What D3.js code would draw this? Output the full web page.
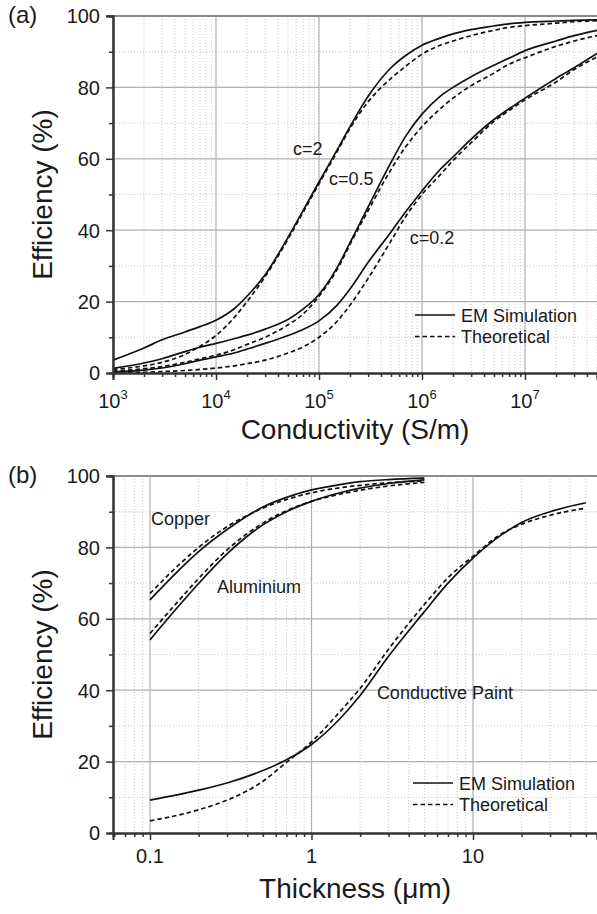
<!DOCTYPE html>
<html>
<head>
<meta charset="utf-8">
<script src="https://cdn.jsdelivr.net/npm/d3@7"></script>
<style>
  body { margin: 0; background: #fff; }
  svg { display: block; }
  text { font-family: "Liberation Sans", Arial, sans-serif; fill: #1a1a1a; }
</style>
</head>
<body>
<svg id="chart" width="597" height="914"></svg>
<script>
// ---- panel (a): efficiency vs conductivity ----
const sigma = [1e3, 2e3, 3e3, 5e3, 7e3, 1e4, 1.5e4, 2e4, 3e4, 5e4, 7e4, 1e5, 1.5e5, 2e5, 3e5,
               5e5, 7e5, 1e6, 1.5e6, 2e6, 3e6, 5e6, 7e6, 1e7, 2e7, 3e7, 5e7];
const simC2  = [3.6, 7.0, 9.3, 11.5, 13.0, 14.8, 18, 21.5, 27.5, 38, 45.5, 53.5, 62.5, 69, 77.5,
                85.5, 89, 91.8, 93.8, 95, 96.2, 97.2, 97.8, 98.2, 98.6, 98.8, 98.9];
const thC2   = [1.0, 2.0, 3.0, 5.2, 7.5, 10.5, 15.5, 20, 27, 37.5, 45, 53, 62, 68.5, 76,
                82.5, 86, 89.3, 91.8, 93, 94.5, 96, 96.8, 97.3, 98, 98.4, 98.7];
const simC05 = [1.3, 2.8, 4.0, 6.0, 7.2, 8.3, 9.6, 10.6, 12.3, 15, 17.9, 22, 29.5, 36.5, 46.5,
                59, 66.5, 72.5, 77.5, 80, 83, 86.2, 88.2, 90.3, 93, 94.5, 96];
const thC05  = [0.5, 1.2, 1.8, 3.0, 4.0, 5.0, 6.5, 8, 10, 13.5, 16.5, 21.5, 29, 36, 45.5,
                57, 63.5, 69, 74, 77, 80.5, 84, 86.5, 88.3, 91.5, 93, 94.5];
const simC02 = [0.3, 0.8, 1.4, 2.6, 3.6, 4.5, 5.6, 6.7, 8.3, 10.5, 12.2, 14.6, 19, 23.5, 31,
                39.5, 45.3, 51, 57, 60.5, 65.5, 71, 74, 77, 82.5, 85.5, 89.5];
const thC02  = [0.1, 0.2, 0.4, 0.7, 1.0, 1.4, 2.0, 2.6, 3.6, 5.6, 7.3, 10, 14.5, 19, 26.5,
                37, 44, 50, 55.5, 59.5, 64.5, 70.5, 73.5, 76.5, 81.5, 85, 88.5];
const sigmaTicks = [1e3, 1e4, 1e5, 1e6, 1e7];
const sigmaExps = ["3", "4", "5", "6", "7"];
const curveLabelsA = [
  {text: "c=2",   x: 5.6e4, y: 61},
  {text: "c=0.5", x: 1.25e5, y: 52.7},
  {text: "c=0.2", x: 7.6e5, y: 36}
];

// ---- panel (b): efficiency vs thickness ----
const thick = [0.1, 0.15, 0.2, 0.3, 0.5, 0.7, 1, 1.5, 2, 3, 5];
const simCu = [65.3, 73.5, 78.8, 85, 91.3, 94, 96.1, 97.6, 98.4, 99, 99.4];
const thCu  = [67.1, 75, 80, 85.8, 91, 93.4, 95.3, 96.7, 97.4, 98.1, 98.6];
const simAl = [54.1, 63.5, 69.9, 78.2, 86.3, 90, 92.9, 95.3, 96.6, 97.9, 98.9];
const thAl  = [55.9, 65, 71.3, 79.3, 86.8, 90.3, 92.9, 94.9, 96, 97.2, 98.2];
const thickPaint = [0.1, 0.2, 0.3, 0.5, 0.7, 1, 1.5, 2, 3, 5, 7, 10, 15, 20, 30, 50];
const simPaint = [9.2, 12, 14, 17.5, 20.5, 24.8, 32, 38.5, 49.5, 62, 70, 77, 83.5, 87, 90, 92.5];
const thPaint  = [3.4, 6.5, 9.2, 14.5, 19.8, 25.5, 34, 40.5, 51.5, 64, 71.5, 77.5, 83.8, 86.5, 89, 91];
const thickTicks = [0.1, 1, 10];
const thickLabels = ["0.1", "1", "10"];
const curveLabelsB = [
  {text: "Copper",           x: 0.1015, y: 86.3},
  {text: "Aluminium",        x: 0.26,   y: 67.3},
  {text: "Conductive Paint", x: 2.54,   y: 37.4}
];

const effTicks = [0, 20, 40, 60, 80, 100];
const effMinor = [10, 30, 50, 70, 90];
const legendNames = ["EM Simulation", "Theoretical"];

const svg = d3.select("#chart");
const left = 113, right = 597;

function drawPanel(p) {
  const x = d3.scaleLog().domain(p.xDomain).range([left, right]);
  const y = d3.scaleLinear().domain([0, 100]).range([p.bottom, p.top]);
  const g = svg.append("g");

  const isMajor = v => p.xTicks.some(t => Math.abs(t - v) / t < 1e-6);
  const xMinor = x.ticks(40).filter(v => !isMajor(v));

  // grid: minor dotted, major solid
  const grid = g.append("g");
  grid.selectAll(".vm").data(xMinor).join("line")
    .attr("x1", d => x(d)).attr("x2", d => x(d))
    .attr("y1", p.top).attr("y2", p.bottom)
    .attr("stroke", "#c8c8c8").attr("stroke-width", 1).attr("stroke-dasharray", "1,2");
  grid.selectAll(".hm").data(effMinor).join("line")
    .attr("x1", left).attr("x2", right)
    .attr("y1", d => y(d)).attr("y2", d => y(d))
    .attr("stroke", "#c8c8c8").attr("stroke-width", 1).attr("stroke-dasharray", "1,2");
  grid.selectAll(".vM").data(p.xTicks).join("line")
    .attr("x1", d => x(d)).attr("x2", d => x(d))
    .attr("y1", p.top).attr("y2", p.bottom)
    .attr("stroke", "#b0b0b0").attr("stroke-width", 1.2);
  grid.selectAll(".hM").data(effTicks.slice(1, -1)).join("line")
    .attr("x1", left).attr("x2", right)
    .attr("y1", d => y(d)).attr("y2", d => y(d))
    .attr("stroke", "#b0b0b0").attr("stroke-width", 1.2);

  // curves
  const line = d3.line().curve(d3.curveMonotoneX);
  p.series.forEach(s => {
    g.append("path")
      .attr("d", line(s.xs.map((v, i) => [x(v), y(s.ys[i])])))
      .attr("fill", "none")
      .attr("stroke", "#111")
      .attr("stroke-width", 1.7)
      .attr("stroke-dasharray", s.dashed ? "4.5,3" : null);
  });

  // top frame
  g.append("line").attr("x1", left - 7).attr("x2", right)
    .attr("y1", p.top).attr("y2", p.top)
    .attr("stroke", "#8a8a8a").attr("stroke-width", 2);

  // axes
  const yAxis = g.append("g").attr("transform", `translate(${left},0)`)
    .call(d3.axisLeft(y).tickValues(effTicks).tickSize(7).tickPadding(6));
  g.append("g").attr("transform", `translate(${left},0)`)
    .call(d3.axisLeft(y).tickValues(effMinor).tickSize(4).tickFormat(""));
  yAxis.selectAll("text").attr("font-size", 20).attr("dy", "0.34em");

  g.append("g").attr("transform", `translate(0,${p.bottom})`)
    .call(d3.axisBottom(x).tickValues(p.xTicks).tickSize(7).tickFormat(""));
  g.append("g").attr("transform", `translate(0,${p.bottom})`)
    .call(d3.axisBottom(x).tickValues(xMinor).tickSize(4).tickFormat(""));

  g.selectAll(".domain").attr("stroke", "#333").attr("stroke-width", 2);
  g.selectAll(".tick line").attr("stroke", "#333").attr("stroke-width", 1.5);

  // x tick labels
  p.xTicks.forEach((v, i) => {
    const t = g.append("text")
      .attr("x", x(v)).attr("y", p.bottom + p.labelOffset)
      .attr("text-anchor", "middle").attr("font-size", 20);
    if (p.exps) {
      t.append("tspan").text("10");
      t.append("tspan").text(p.exps[i]).attr("font-size", 13).attr("dy", -9);
    } else {
      t.text(p.xLabels[i]);
    }
  });

  // axis titles
  g.append("text")
    .attr("x", (left + right) / 2).attr("y", p.bottom + p.titleOffset)
    .attr("text-anchor", "middle").attr("font-size", 28)
    .text(p.xTitle);
  g.append("text")
    .attr("transform", `translate(52,${(p.top + p.bottom) / 2}) rotate(-90)`)
    .attr("text-anchor", "middle").attr("font-size", 28)
    .text("Efficiency (%)");

  // panel letter
  g.append("text")
    .attr("x", 8).attr("y", p.top + 7)
    .attr("font-family", "'Liberation Serif', 'Times New Roman', serif")
    .attr("font-size", 24)
    .text(p.letter);

  // curve labels
  p.curveLabels.forEach(l => {
    g.append("text").attr("x", x(l.x)).attr("y", y(l.y))
      .attr("font-size", 18).text(l.text);
  });

  // legend
  legendNames.forEach((name, i) => {
    const ly = p.top + p.legendY + i * 21.5;
    g.append("line")
      .attr("x1", p.legendX).attr("x2", p.legendX + 40)
      .attr("y1", ly).attr("y2", ly)
      .attr("stroke", "#111").attr("stroke-width", 1.7)
      .attr("stroke-dasharray", i ? "4.5,3" : null);
    g.append("text").attr("x", p.legendX + 46).attr("y", ly + 6.5)
      .attr("font-size", 18).text(name);
  });
}

drawPanel({
  top: 16, bottom: 373,
  xDomain: [1e3, 5e7],
  xTicks: sigmaTicks, exps: sigmaExps,
  labelOffset: 35, titleOffset: 66,
  xTitle: "Conductivity (S/m)",
  letter: "(a)",
  curveLabels: curveLabelsA,
  legendX: 415, legendY: 299,
  series: [
    {xs: sigma, ys: simC2}, {xs: sigma, ys: thC2, dashed: true},
    {xs: sigma, ys: simC05}, {xs: sigma, ys: thC05, dashed: true},
    {xs: sigma, ys: simC02}, {xs: sigma, ys: thC02, dashed: true}
  ]
});

drawPanel({
  top: 476, bottom: 833,
  xDomain: [0.059, 58.6],
  xTicks: thickTicks, xLabels: thickLabels,
  labelOffset: 30, titleOffset: 65,
  xTitle: "Thickness (\u03bcm)",
  letter: "(b)",
  curveLabels: curveLabelsB,
  legendX: 413, legendY: 307,
  series: [
    {xs: thick, ys: simCu}, {xs: thick, ys: thCu, dashed: true},
    {xs: thick, ys: simAl}, {xs: thick, ys: thAl, dashed: true},
    {xs: thickPaint, ys: simPaint}, {xs: thickPaint, ys: thPaint, dashed: true}
  ]
});
</script>
</body>
</html>
